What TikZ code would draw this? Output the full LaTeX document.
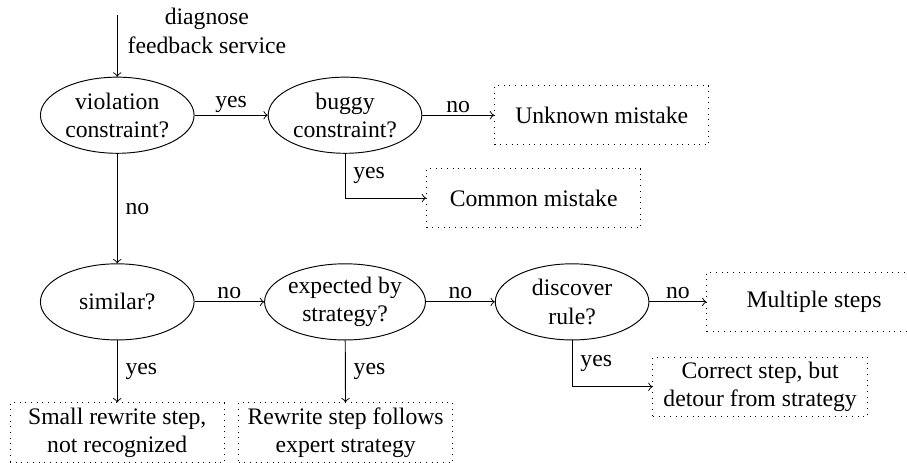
\documentclass[tikz,border=0pt]{standalone}
\usepackage{fontspec}
\setmainfont{Liberation Serif}
\usetikzlibrary{shapes.geometric}

\begin{document}
\begin{tikzpicture}[>=to,
  test/.style={ellipse, draw, align=center, minimum width=2.28cm, minimum height=1.13cm, inner sep=0pt},
  result/.style={rectangle, draw, dotted, align=center, minimum width=3.18cm, minimum height=0.875cm, inner sep=2pt},
  answer/.style={above, inner sep=1pt}]

\useasboundingbox (0,0) rectangle (13.46,6.87);

%Eingang
\coordinate (start) at (1.74,6.65);
\node[align=center] (service) at (3.07,6.41) {diagnose\\feedback service};

%erste Zeile
\node[test] (violation) at (1.74,5.16) {violation\\constraint?};
\node[test] (buggy) at (5.12,5.16) {buggy\\constraint?};
\node[result] (unknown) at (8.93,5.16) {Unknown mistake};
\node[result] (common) at (7.92,3.93) {Common mistake};

%zweite Zeile
\node[test] (similar) at (1.74,2.39) {similar?};
\node[test] (expected) at (5.12,2.39) {expected by\\strategy?};
\node[test] (discover) at (8.49,2.39) {discover\\rule?};
\node[result] (multiple) at (12.08,2.39) {Multiple steps};
\node[result] (correct) at (11.28,1.13) {Correct step, but\\detour from strategy};

%dritte Zeile
\node[result] (small) at (1.74,0.45) {Small rewrite step,\\not recognized};
\node[result] (rewrite) at (5.13,0.45) {Rewrite step follows\\expert strategy};

%Pfeile
\draw[->] (start) -- (violation);
\draw[->] (violation) -- node[answer] {yes} (buggy);
\draw[->] (buggy) -- node[answer] {no} (unknown);
\draw[->] (buggy.south) |- node[right, pos=0.25] {yes} (common);
\draw[->] (violation) -- node[right] {no} (similar);

\draw[->] (similar) -- node[answer] {no} (expected);
\draw[->] (expected) -- node[answer] {no} (discover);
\draw[->] (discover) -- node[answer] {no} (multiple);
\draw[->] (discover.south) |- node[right, pos=0.25] {yes} (correct);
\draw[->] (similar) -- node[right] {yes} (small);
\draw[->] (expected) -- node[right] {yes} (rewrite);

\end{tikzpicture}
\end{document}
